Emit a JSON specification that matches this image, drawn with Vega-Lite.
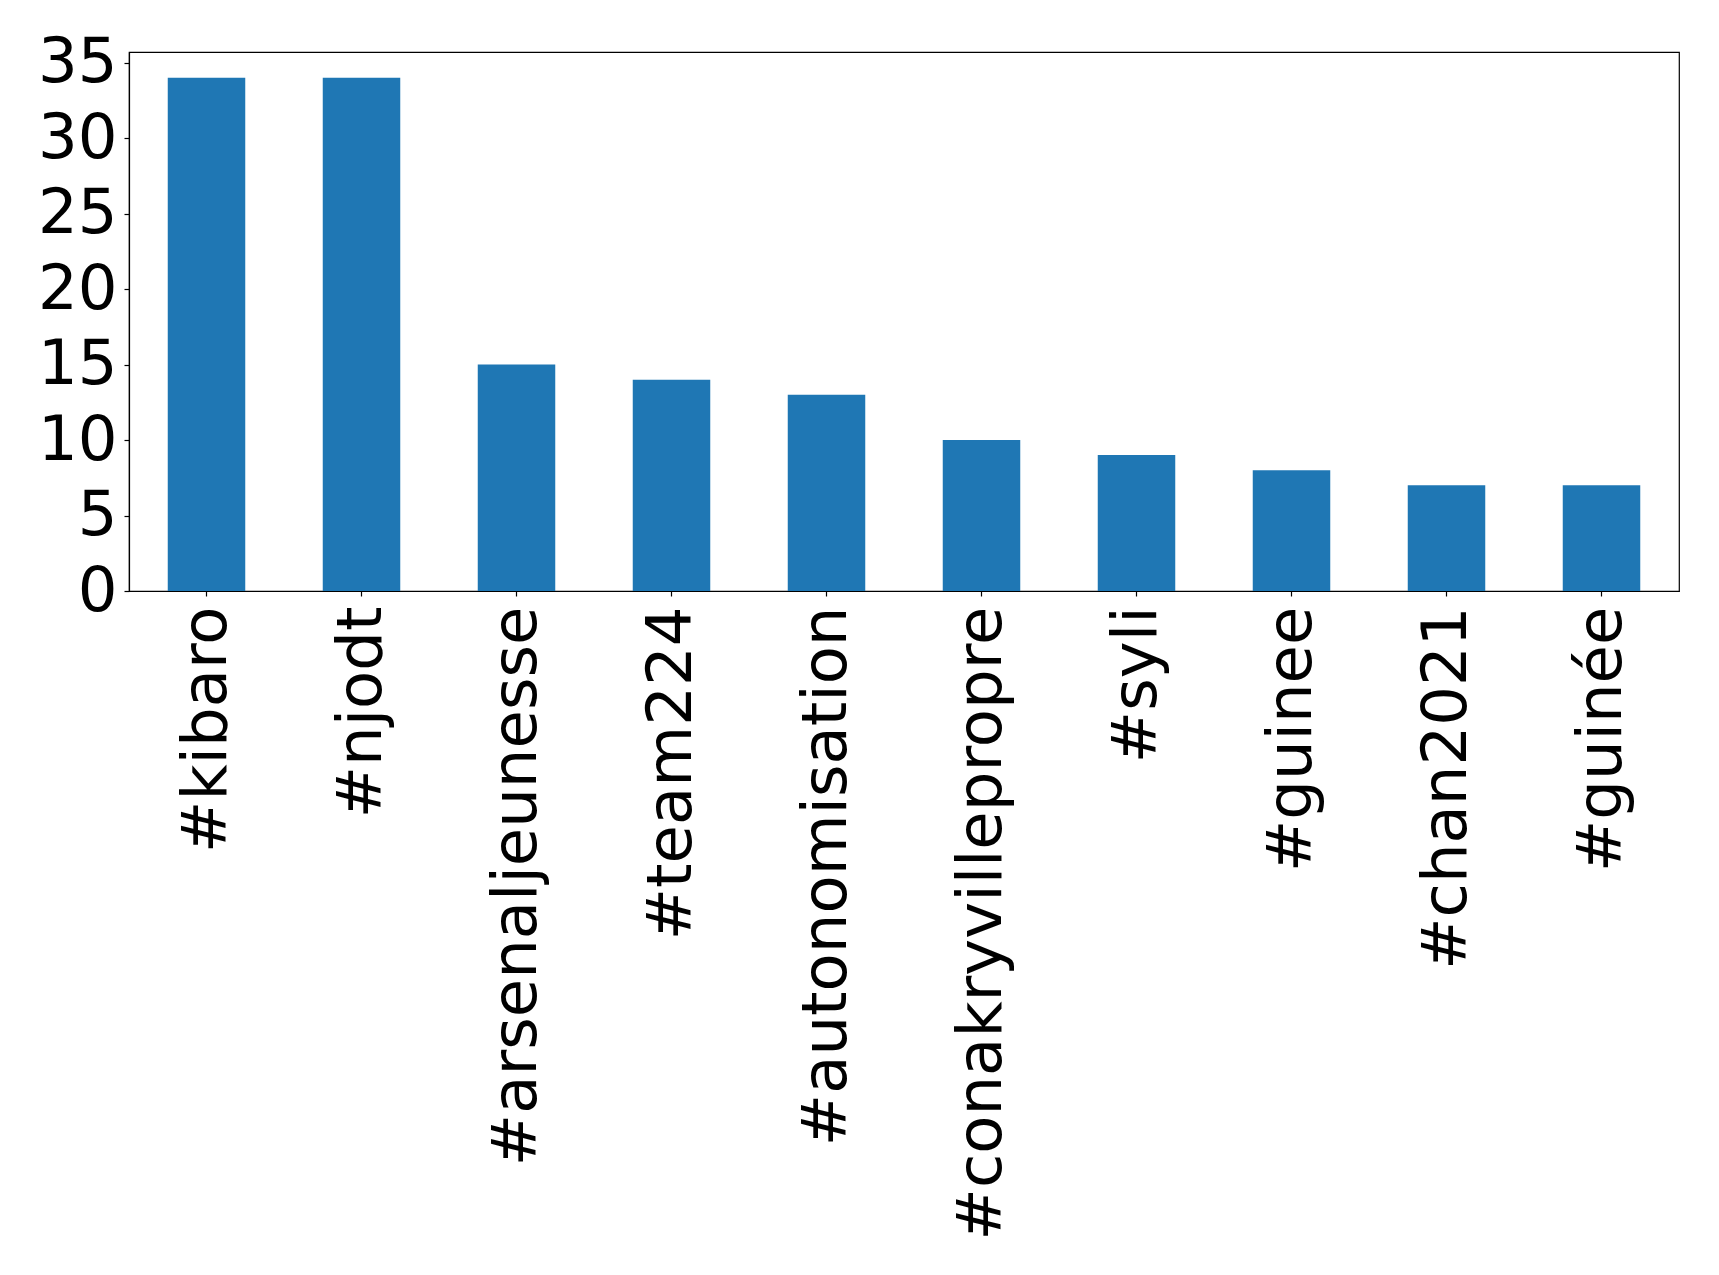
{
  "$schema": "https://vega.github.io/schema/vega-lite/v6.json",
  "width": 1550,
  "height": 539,
  "autosize": "none",
  "padding": {"left": 129, "top": 52, "right": 40, "bottom": 684},
  "background": "white",
  "data": {
    "values": [
      {"hashtag": "#kibaro", "count": 34},
      {"hashtag": "#njodt", "count": 34},
      {"hashtag": "#arsenaljeunesse", "count": 15},
      {"hashtag": "#team224", "count": 14},
      {"hashtag": "#autonomisation", "count": 13},
      {"hashtag": "#conakryvillepropre", "count": 10},
      {"hashtag": "#syli", "count": 9},
      {"hashtag": "#guinee", "count": 8},
      {"hashtag": "#chan2021", "count": 7},
      {"hashtag": "#guinée", "count": 7}
    ]
  },
  "config": {
    "view": {"stroke": "black", "strokeWidth": 1.2},
    "font": "DejaVu Sans",
    "axis": {
      "domainColor": "black",
      "tickColor": "black",
      "labelColor": "black",
      "labelFont": "DejaVu Sans",
      "labelFontSize": 62.5,
      "grid": false,
      "tickSize": 5,
      "domainWidth": 1.2,
      "tickWidth": 1.2,
      "title": null
    }
  },
  "mark": {"type": "bar", "color": "#1f77b4"},
  "encoding": {
    "x": {
      "field": "hashtag",
      "type": "nominal",
      "sort": null,
      "scale": {"paddingInner": 0.5, "paddingOuter": 0.25},
      "axis": {"labelAngle": -90, "labelPadding": 10, "labelLimit": 0}
    },
    "y": {
      "field": "count",
      "type": "quantitative",
      "scale": {"domain": [0, 35.7], "nice": false},
      "axis": {"values": [0, 5, 10, 15, 20, 25, 30, 35], "labelPadding": 7}
    }
  }
}
